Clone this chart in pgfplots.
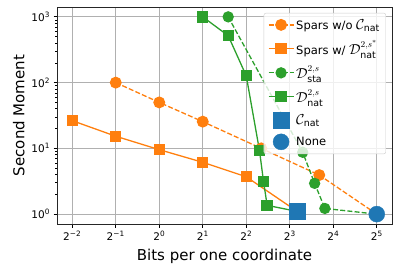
\documentclass[border=0pt]{standalone}
\usepackage{pgfplots}
\pgfplotsset{compat=1.18}
\usepackage{fontspec}
\usepackage{amsmath}
\setmainfont{DejaVu Sans}
\definecolor{tabblue}{HTML}{1F77B4}
\definecolor{taborange}{HTML}{FF7F0E}
\definecolor{tabgreen}{HTML}{2CA02C}
\newcommand{\lm}[1]{{\fontsize{13.5}{15}\selectfont$#1$}}
\begin{document}
\begin{tikzpicture}
\begin{axis}[
  scale only axis, width=335pt, height=217pt,
  xmode=log, ymode=log, log basis x=2,
  xmin=0.1961, xmax=40.79, ymin=0.7079, ymax=1412.5,
  xtick={0.25,0.5,1,2,4,8,16,32},
  xticklabels={2\textsuperscript{−2},2\textsuperscript{−1},2\textsuperscript{0},2\textsuperscript{1},2\textsuperscript{2},2\textsuperscript{3},2\textsuperscript{4},2\textsuperscript{5}},
  ytick={1,10,100,1000},
  yticklabels={10\textsuperscript{0},10\textsuperscript{1},10\textsuperscript{2},10\textsuperscript{3}},
  xminorticks=false,
  tick label style={font=\fontsize{10.5}{12}\selectfont},
  label style={font=\fontsize{15}{18}\selectfont},
  xlabel={Bits per one coordinate}, ylabel={Second Moment},
  xlabel style={yshift=-2pt},
  grid=major, major grid style={color=black!31, line width=0.8pt},
  axis line style={line width=0.8pt, black!85},
  tick align=outside, xtick pos=bottom, ytick pos=left,
  major tick length=3.5pt, minor tick length=2pt,
  major tick style={black, line width=0.8pt},
  minor tick style={black, line width=0.6pt},
  legend style={at={(1,1)}, anchor=north east, xshift=-6pt, yshift=-6pt,
    font=\fontsize{11.5}{13}\selectfont, fill=white, fill opacity=0.8, text opacity=1,
    draw=black!20, draw opacity=1, rounded corners=2pt, row sep=6pt, inner sep=4pt},
  legend cell align=left,
  legend image code/.code={\draw[mark repeat=2,mark phase=2,opacity=1,#1] plot coordinates {(0pt,0pt) (12.5pt,0pt) (25pt,0pt)};},
]
\coordinate (ll) at (rel axis cs:0,0);
\coordinate (ur) at (rel axis cs:1,1);
\addplot[taborange, line width=1.3pt, dash pattern=on 5pt off 2.2pt, mark=*, mark size=5.3pt, mark options={solid}]
  coordinates {(0.5,100) (1,50) (2,25.5) (5.08,10) (12.8,3.93) (32,1)};
\addlegendentry{Spars w/o \lm{\mathcal{C}_{\text{nat}}}}
\addplot[taborange, line width=1.3pt, mark=square*, mark size=5pt]
  coordinates {(0.25,26.4) (0.5,15.3) (1,9.56) (2,6.14) (4,3.7) (9,1.1)};
\addlegendentry{Spars w/ \lm{\mathcal{D}^{2,s^*}_{\text{nat}}}}
\addplot[tabgreen, line width=1.3pt, dash pattern=on 5pt off 2.2pt, mark=*, mark size=5pt, mark options={solid}]
  coordinates {(3,1000) (9.83,8.72) (11.89,2.94) (14.0,1.22) (32,1)};
\addlegendentry{\lm{\mathcal{D}^{2,s}_{\text{sta}}}}
\addplot[tabgreen, line width=1.3pt, mark=square*, mark size=5pt]
  coordinates {(2,1000) (3,517) (4,127) (4.94,9.22) (5.27,3.11) (5.58,1.36) (9,1.1)};
\addlegendentry{\lm{\mathcal{D}^{2,s}_{\text{nat}}}}
\addplot[tabblue, only marks, mark=square*, mark size=8pt]
  coordinates {(9,1.1)};
\addlegendentry{\lm{\mathcal{C}_{\text{nat}}}}
\addplot[tabblue, only marks, mark=*, mark size=8pt]
  coordinates {(32,1)};
\addlegendentry{None}
\end{axis}
\pgfresetboundingbox
\path[use as bounding box] ([xshift=-57pt,yshift=-50pt]ll) rectangle ([xshift=7pt,yshift=7pt]ur);
\end{tikzpicture}
\end{document}
